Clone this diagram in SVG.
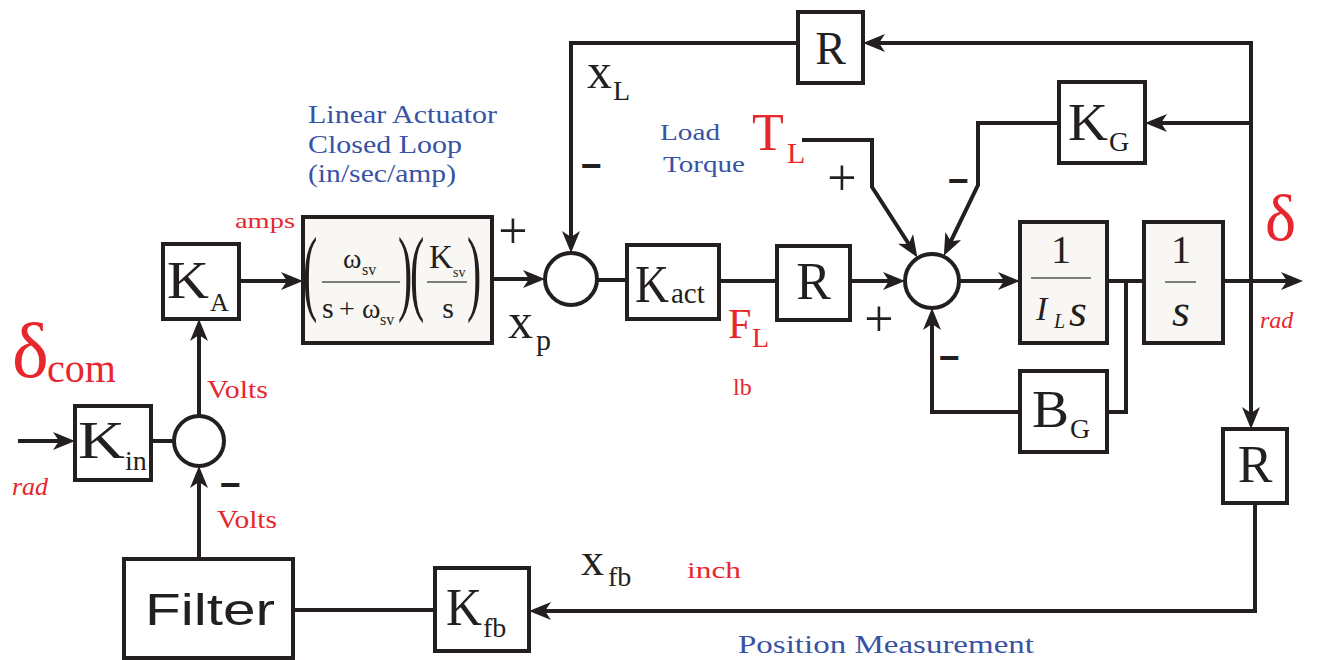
<svg xmlns="http://www.w3.org/2000/svg" width="1319" height="660" viewBox="0 0 1319 660">
<defs>
<marker id="ah" viewBox="0 0 22 18" refX="12" refY="9" markerWidth="22" markerHeight="18" markerUnits="userSpaceOnUse" orient="auto">
<path d="M0,0 L22,9 L0,18 L6,9 z" fill="#231f20"/>
</marker>
<style>
.box{fill:#fff;stroke:#231f20;stroke-width:4}
.lbox{fill:#f8f7f4;stroke:#231f20;stroke-width:4}
.sum{fill:#fff;stroke:#231f20;stroke-width:4}
.ln{fill:none;stroke:#231f20;stroke-width:4}
.ar{fill:none;stroke:#231f20;stroke-width:4;marker-end:url(#ah)}
.fr{stroke:#555;stroke-width:1.5}
text{font-family:"Liberation Serif","Times New Roman",serif;fill:#231f20}
.red{fill:#e8262d}
.blue{fill:#3953a4}
.it{font-style:italic}
.sign{font-family:"Liberation Sans",Arial,sans-serif;font-weight:bold;font-size:36px;text-anchor:middle}
.plus{font-size:52px;text-anchor:middle}
.big{font-size:52px}
.sub{font-size:28px}
</style>
</defs>
<rect width="1319" height="660" fill="#fff"/>

<g id="connectors">
<path class="ar" d="M18,441 H65"/>
<path class="ln" d="M151,441 H174"/>
<path class="ar" d="M199,416 V329"/>
<path class="ar" d="M239,281 H293"/>
<path class="ar" d="M199,559 V476"/>
<path class="ar" d="M492,279 H535"/>
<path class="ar" d="M798,43 H571 V243"/>
<path class="ln" d="M597,280 H627"/>
<path class="ln" d="M719,281 H777"/>
<path class="ar" d="M850,281 H895"/>
<path class="ar" d="M802,140 H872 V187 L912,249"/>
<path class="ar" d="M1059,123 H978 V185 L948.2,246.7"/>
<path class="ar" d="M959,281 H1010"/>
<path class="ln" d="M1107,281 H1144"/>
<path class="ar" d="M1223,281 H1293"/>
<path class="ln" d="M1126,281 V412 H1107"/>
<path class="ar" d="M1020,412 H932 V318"/>
<path class="ar" d="M1251,41 V419"/>
<path class="ar" d="M1251,43 H873"/>
<path class="ar" d="M1251,123 H1155"/>
<path class="ar" d="M1255,503 V611 H539"/>
<path class="ln" d="M435,610 H293"/>
</g>

<g id="sum1"><circle class="sum" cx="199" cy="441" r="25"/></g>
<g id="sum2"><circle class="sum" cx="571" cy="279" r="26"/></g>
<g id="sum3"><circle class="sum" cx="932" cy="281" r="27"/></g>

<g id="Kin">
<rect class="box" x="75" y="406" width="76" height="74"/>
<text x="78" y="458" class="big" textLength="47" lengthAdjust="spacingAndGlyphs">K</text><text x="125" y="470" class="sub">in</text>
</g>
<g id="KA">
<rect class="box" x="163" y="244" width="76" height="75"/>
<text x="167" y="298" class="big" textLength="42" lengthAdjust="spacingAndGlyphs">K</text><text x="210" y="311" font-size="26">A</text>
</g>
<g id="actuator">
<rect class="lbox" x="303" y="217" width="189" height="126"/>
<text transform="translate(303,303) scale(0.45,1)" font-size="95">(</text>
<text transform="translate(398,303) scale(0.45,1)" font-size="95">)</text>
<text transform="translate(410,303) scale(0.45,1)" font-size="95">(</text>
<text transform="translate(467,303) scale(0.45,1)" font-size="95">)</text>
<text x="343" y="268" font-size="28">ω</text><text x="362" y="275" font-size="16">sv</text>
<line class="fr" x1="322" y1="282" x2="400" y2="282"/>
<text x="322" y="318" font-size="30">s</text><text x="339" y="318" font-size="28">+</text><text x="362" y="318" font-size="28">ω</text><text x="380" y="325" font-size="16">sv</text>
<text x="429" y="268" font-size="33">K</text><text x="453" y="277" font-size="14">sv</text>
<line class="fr" x1="427" y1="282" x2="467" y2="282"/>
<text x="448" y="318" font-size="30" text-anchor="middle">s</text>
</g>
<g id="Kact">
<rect class="box" x="627" y="245" width="92" height="74"/>
<text x="635" y="302" class="big" textLength="34" lengthAdjust="spacingAndGlyphs">K</text><text x="671" y="303" font-size="29">act</text>
</g>
<g id="Rmid">
<rect class="box" x="777" y="246" width="73" height="74"/>
<text x="813.5" y="299" class="big" text-anchor="middle">R</text>
</g>
<g id="Rtop">
<rect class="box" x="798" y="12" width="65" height="71"/>
<text x="830.5" y="64" font-size="46" text-anchor="middle">R</text>
</g>
<g id="KG">
<rect class="box" x="1059" y="82" width="86" height="81"/>
<text x="1068" y="140" class="big" textLength="40" lengthAdjust="spacingAndGlyphs">K</text><text x="1109" y="151" class="sub">G</text>
</g>
<g id="ILs">
<rect class="lbox" x="1020" y="222" width="87" height="121"/>
<text x="1061" y="263" font-size="40" text-anchor="middle">1</text>
<line class="fr" x1="1031" y1="278" x2="1091" y2="278"/>
<text x="1036" y="320" font-size="34" class="it">I</text><text x="1054" y="328" font-size="20" class="it">L</text><text x="1069" y="326" font-size="46" class="it">s</text>
</g>
<g id="integrator">
<rect class="lbox" x="1144" y="222" width="79" height="121"/>
<text x="1181" y="263" font-size="40" text-anchor="middle">1</text>
<line class="fr" x1="1165" y1="282" x2="1196" y2="282"/>
<text x="1181" y="326" font-size="46" class="it" text-anchor="middle">s</text>
</g>
<g id="BG">
<rect class="box" x="1020" y="371" width="87" height="81"/>
<text x="1032" y="427" class="big" textLength="37" lengthAdjust="spacingAndGlyphs">B</text><text x="1070" y="438" class="sub">G</text>
</g>
<g id="Rright">
<rect class="box" x="1223" y="429" width="64" height="74"/>
<text x="1255" y="482" class="big" text-anchor="middle">R</text>
</g>
<g id="Kfb">
<rect class="box" x="435" y="568" width="94" height="83"/>
<text x="446" y="625" class="big" textLength="36" lengthAdjust="spacingAndGlyphs">K</text><text x="483" y="637" class="sub">fb</text>
</g>
<g id="Filter">
<rect class="box" x="124" y="559" width="169" height="99"/>
<text x="145" y="625" font-size="45" textLength="130" lengthAdjust="spacingAndGlyphs" style="font-family:'Liberation Sans',Arial,sans-serif">Filter</text>
</g>

<g id="labels">
<text x="12" y="377" font-size="78" class="red">δ</text>
<text x="47" y="382" font-size="40" class="red">com</text>
<text x="12" y="495" font-size="26" class="red it">rad</text>
<text x="207" y="398" font-size="25" class="red" textLength="61" lengthAdjust="spacingAndGlyphs">Volts</text>
<text x="217" y="528" font-size="25" class="red" textLength="60" lengthAdjust="spacingAndGlyphs">Volts</text>
<text x="235" y="228" font-size="22" class="red" textLength="60" lengthAdjust="spacingAndGlyphs">amps</text>
<text x="308" y="123" font-size="26" class="blue" textLength="189" lengthAdjust="spacingAndGlyphs">Linear Actuator</text>
<text x="308" y="153" font-size="26" class="blue" textLength="154" lengthAdjust="spacingAndGlyphs">Closed Loop</text>
<text x="308" y="182" font-size="26" class="blue" textLength="148" lengthAdjust="spacingAndGlyphs">(in/sec/amp)</text>
<text x="508" y="338" font-size="50">x</text><text x="536" y="350" font-size="30">p</text>
<text x="587" y="88" font-size="50">x</text><text x="613" y="100" font-size="28">L</text>
<text x="660" y="140" font-size="24" class="blue" textLength="60" lengthAdjust="spacingAndGlyphs">Load</text>
<text x="663" y="172" font-size="24" class="blue" textLength="82" lengthAdjust="spacingAndGlyphs">Torque</text>
<text x="752" y="150" font-size="52" class="red">T</text><text x="787" y="163" font-size="30" class="red">L</text>
<text x="728" y="338" font-size="42" class="red">F</text><text x="752" y="347" font-size="28" class="red">L</text>
<text x="733" y="395" font-size="24" class="red">lb</text>
<text x="1265" y="240" font-size="66" class="red">δ</text>
<text x="1260" y="328" font-size="24" class="red it">rad</text>
<text x="581" y="575" font-size="46">x</text><text x="608" y="586" font-size="28">fb</text>
<text x="687" y="578" font-size="24" class="red" textLength="54" lengthAdjust="spacingAndGlyphs">inch</text>
<text x="738" y="653" font-size="26" class="blue" textLength="296" lengthAdjust="spacingAndGlyphs">Position Measurement</text>
<text x="230" y="497" class="sign">−</text>
<text x="591" y="178" class="sign">−</text>
<text x="958" y="193" class="sign">−</text>
<text x="949" y="370" class="sign">−</text>
<text x="513" y="248" class="plus">+</text>
<text x="842" y="195" class="plus">+</text>
<text x="879" y="336" class="plus">+</text>
</g>
</svg>
